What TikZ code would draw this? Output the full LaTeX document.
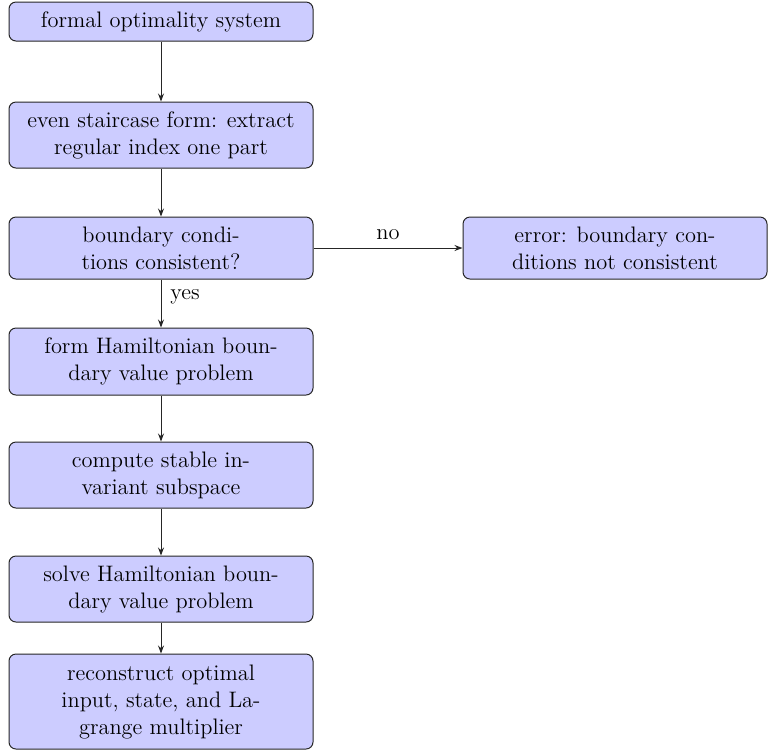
\documentclass[tikz,border=0pt]{standalone}
\usetikzlibrary{arrows.meta}
\begin{document}
\begin{tikzpicture}[x=0.5pt,y=-0.5pt,
  box/.style={draw=black!85, fill=blue!20, rounded corners=3.5pt, line width=0.5pt,
    minimum width=152pt, align=center, inner sep=0pt,
    font=\fontsize{11.2}{13.5}\selectfont},
  arr/.style={-{Stealth[length=4pt,width=3pt]}, line width=0.5pt, draw=black!85},
  lbl/.style={font=\fontsize{11.2}{13.5}\selectfont, inner sep=0pt}]
\useasboundingbox (0,0) rectangle (769,752);
\node[box, minimum height=19.5pt] (b1) at (161,21.5) {formal optimality system};
\node[box, minimum height=33pt] (b2) at (161,135) {even staircase form: extract\\regular index one part};
\node[box, minimum height=31pt] (b3) at (161,248) {boundary condi-\\tions consistent?};
\node[box, minimum height=31pt] (err) at (615,248) {error: boundary con-\\ditions not consistent};
\node[box, minimum height=33.5pt] (b4) at (161,361.5) {form Hamiltonian boun-\\dary value problem};
\node[box, minimum height=33pt] (b5) at (161,475) {compute stable in-\\variant subspace};
\node[box, minimum height=33pt] (b6) at (161,589) {solve Hamiltonian boun-\\dary value problem};
\node[box, minimum height=47.5pt] (b7) at (161,701.5) {reconstruct optimal\\input, state, and La-\\grange multiplier};
\draw[arr] (b1) -- (b2);
\draw[arr] (b2) -- (b3);
\draw[arr] (b3) -- (b4);
\draw[arr] (b3) -- (err);
\draw[arr] (b4) -- (b5);
\draw[arr] (b5) -- (b6);
\draw[arr] (b6) -- (b7);
\node[lbl] (no) at (388,235) {no};
\node[lbl] (yes) at (185,297) {yes};
\end{tikzpicture}
\end{document}
